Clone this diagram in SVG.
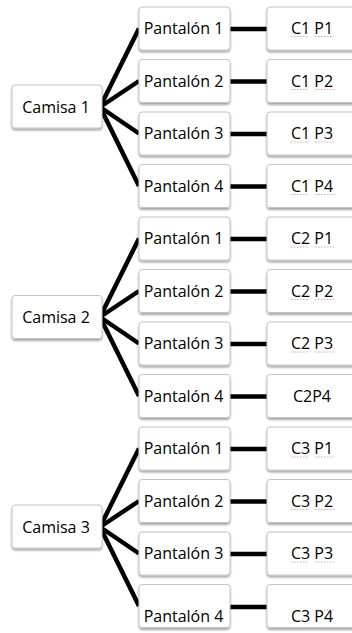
<svg xmlns="http://www.w3.org/2000/svg" width="352" height="633" viewBox="0 0 352 633">
<defs>
<filter id="sh" x="-10%" y="-10%" width="120%" height="130%">
<feDropShadow dx="0" dy="2" stdDeviation="1.2" flood-color="#000" flood-opacity="0.35"/>
</filter>
</defs>
<style>
.b{fill:#fff;stroke:#c4c4c4;stroke-width:1;filter:url(#sh)}
.t{font-family:"Open Sans",Lato,"Liberation Sans",sans-serif;font-size:16px;fill:#000;text-anchor:middle}
.c line{stroke:#000;stroke-width:4.5}
.sq{stroke:#f0a0a0;stroke-width:1;stroke-dasharray:1.5 1.5}
</style>
<rect width="352" height="633" fill="#fff"/>
<g class="c" id="connectors">
<line x1="100" y1="107" x2="139" y2="28.5"/>
<line x1="100" y1="107" x2="139" y2="81"/>
<line x1="100" y1="107" x2="139" y2="133.5"/>
<line x1="100" y1="107" x2="139" y2="186"/>
<line x1="230" y1="29" x2="267" y2="29"/>
<line x1="230" y1="81.5" x2="267" y2="81.5"/>
<line x1="230" y1="134" x2="267" y2="134"/>
<line x1="230" y1="186.5" x2="267" y2="186.5"/>
<line x1="100" y1="317" x2="139" y2="238.5"/>
<line x1="100" y1="317" x2="139" y2="291"/>
<line x1="100" y1="317" x2="139" y2="343.5"/>
<line x1="100" y1="317" x2="139" y2="396"/>
<line x1="230" y1="239" x2="267" y2="239"/>
<line x1="230" y1="291.5" x2="267" y2="291.5"/>
<line x1="230" y1="344" x2="267" y2="344"/>
<line x1="230" y1="396.5" x2="267" y2="396.5"/>
<line x1="100" y1="527" x2="139" y2="448.5"/>
<line x1="100" y1="527" x2="139" y2="501"/>
<line x1="100" y1="527" x2="139" y2="553.5"/>
<line x1="100" y1="527" x2="139" y2="606"/>
<line x1="230" y1="449" x2="267" y2="449"/>
<line x1="230" y1="501.5" x2="267" y2="501.5"/>
<line x1="230" y1="554" x2="267" y2="554"/>
<line x1="230" y1="607" x2="267" y2="607"/>
</g>
<g id="camisa1"><rect class="b" x="12" y="85" width="90" height="43" rx="3"/><text class="t" x="56" y="112.5">Camisa 1</text></g>
<g id="camisa2"><rect class="b" x="12" y="295.5" width="90" height="43" rx="3"/><text class="t" x="56" y="322.5">Camisa 2</text></g>
<g id="camisa3"><rect class="b" x="12" y="505" width="90" height="43" rx="3"/><text class="t" x="56" y="532.5">Camisa 3</text></g>

<g id="g1p1"><rect class="b" x="139" y="7" width="91" height="43" rx="3"/><text class="t" x="183.5" y="33.5">Pantalón 1</text></g>
<g id="g1p2"><rect class="b" x="139" y="59.5" width="91" height="43" rx="3"/><text class="t" x="183.5" y="86.5">Pantalón 2</text></g>
<g id="g1p3"><rect class="b" x="139" y="112" width="91" height="43" rx="3"/><text class="t" x="183.5" y="139">Pantalón 3</text></g>
<g id="g1p4"><rect class="b" x="139" y="164.5" width="91" height="43" rx="3"/><text class="t" x="183.5" y="191.5">Pantalón 4</text></g>
<g id="g2p1"><rect class="b" x="139" y="217" width="91" height="43" rx="3"/><text class="t" x="183.5" y="244">Pantalón 1</text></g>
<g id="g2p2"><rect class="b" x="139" y="269.5" width="91" height="43" rx="3"/><text class="t" x="183.5" y="296.5">Pantalón 2</text></g>
<g id="g2p3"><rect class="b" x="139" y="322" width="91" height="43" rx="3"/><text class="t" x="183.5" y="349">Pantalón 3</text></g>
<g id="g2p4"><rect class="b" x="139" y="374.5" width="91" height="43" rx="3"/><text class="t" x="183.5" y="401.5">Pantalón 4</text></g>
<g id="g3p1"><rect class="b" x="139" y="427" width="91" height="43" rx="3"/><text class="t" x="183.5" y="454">Pantalón 1</text></g>
<g id="g3p2"><rect class="b" x="139" y="479.5" width="91" height="43" rx="3"/><text class="t" x="183.5" y="506.5">Pantalón 2</text></g>
<g id="g3p3"><rect class="b" x="139" y="532" width="91" height="43" rx="3"/><text class="t" x="183.5" y="559">Pantalón 3</text></g>
<g id="g3p4"><rect class="b" x="139" y="584.5" width="91" height="43" rx="3"/><text class="t" x="183.5" y="622">Pantalón 4</text></g>

<g id="c1p1"><rect class="b" x="267" y="7" width="90" height="43" rx="3"/><text class="t" x="312" y="33.5">C1 P1</text><line class="sq" x1="291" y1="36.5" x2="308" y2="36.5"/><line class="sq" x1="315" y1="36.5" x2="334" y2="36.5"/></g>
<g id="c1p2"><rect class="b" x="267" y="59.5" width="90" height="43" rx="3"/><text class="t" x="312" y="86.5">C1 P2</text><line class="sq" x1="291" y1="89.5" x2="308" y2="89.5"/><line class="sq" x1="315" y1="89.5" x2="334" y2="89.5"/></g>
<g id="c1p3"><rect class="b" x="267" y="112" width="90" height="43" rx="3"/><text class="t" x="312" y="139">C1 P3</text><line class="sq" x1="291" y1="142" x2="308" y2="142"/><line class="sq" x1="315" y1="142" x2="334" y2="142"/></g>
<g id="c1p4"><rect class="b" x="267" y="164.5" width="90" height="43" rx="3"/><text class="t" x="312" y="191.5">C1 P4</text><line class="sq" x1="291" y1="194.5" x2="308" y2="194.5"/><line class="sq" x1="315" y1="194.5" x2="334" y2="194.5"/></g>
<g id="c2p1"><rect class="b" x="267" y="217" width="90" height="43" rx="3"/><text class="t" x="312" y="244">C2 P1</text><line class="sq" x1="291" y1="247" x2="308" y2="247"/><line class="sq" x1="315" y1="247" x2="334" y2="247"/></g>
<g id="c2p2"><rect class="b" x="267" y="269.5" width="90" height="43" rx="3"/><text class="t" x="312" y="296.5">C2 P2</text><line class="sq" x1="291" y1="299.5" x2="308" y2="299.5"/><line class="sq" x1="315" y1="299.5" x2="334" y2="299.5"/></g>
<g id="c2p3"><rect class="b" x="267" y="322" width="90" height="43" rx="3"/><text class="t" x="312" y="349">C2 P3</text><line class="sq" x1="291" y1="352" x2="308" y2="352"/><line class="sq" x1="315" y1="352" x2="334" y2="352"/></g>
<g id="c2p4"><rect class="b" x="267" y="374.5" width="90" height="43" rx="3"/><text class="t" x="312" y="401.5">C2P4</text></g>
<g id="c3p1"><rect class="b" x="267" y="427" width="90" height="43" rx="3"/><text class="t" x="312" y="454">C3 P1</text><line class="sq" x1="291" y1="457" x2="308" y2="457"/><line class="sq" x1="315" y1="457" x2="334" y2="457"/></g>
<g id="c3p2"><rect class="b" x="267" y="479.5" width="90" height="43" rx="3"/><text class="t" x="312" y="506.5">C3 P2</text><line class="sq" x1="291" y1="509.5" x2="308" y2="509.5"/><line class="sq" x1="315" y1="509.5" x2="334" y2="509.5"/></g>
<g id="c3p3"><rect class="b" x="267" y="532" width="90" height="43" rx="3"/><text class="t" x="312" y="559">C3 P3</text><line class="sq" x1="291" y1="562" x2="308" y2="562"/><line class="sq" x1="315" y1="562" x2="334" y2="562"/></g>
<g id="c3p4"><rect class="b" x="267" y="584.5" width="90" height="43" rx="3"/><text class="t" x="312" y="622">C3 P4</text><line class="sq" x1="315" y1="610" x2="334" y2="610"/></g>
</svg>
